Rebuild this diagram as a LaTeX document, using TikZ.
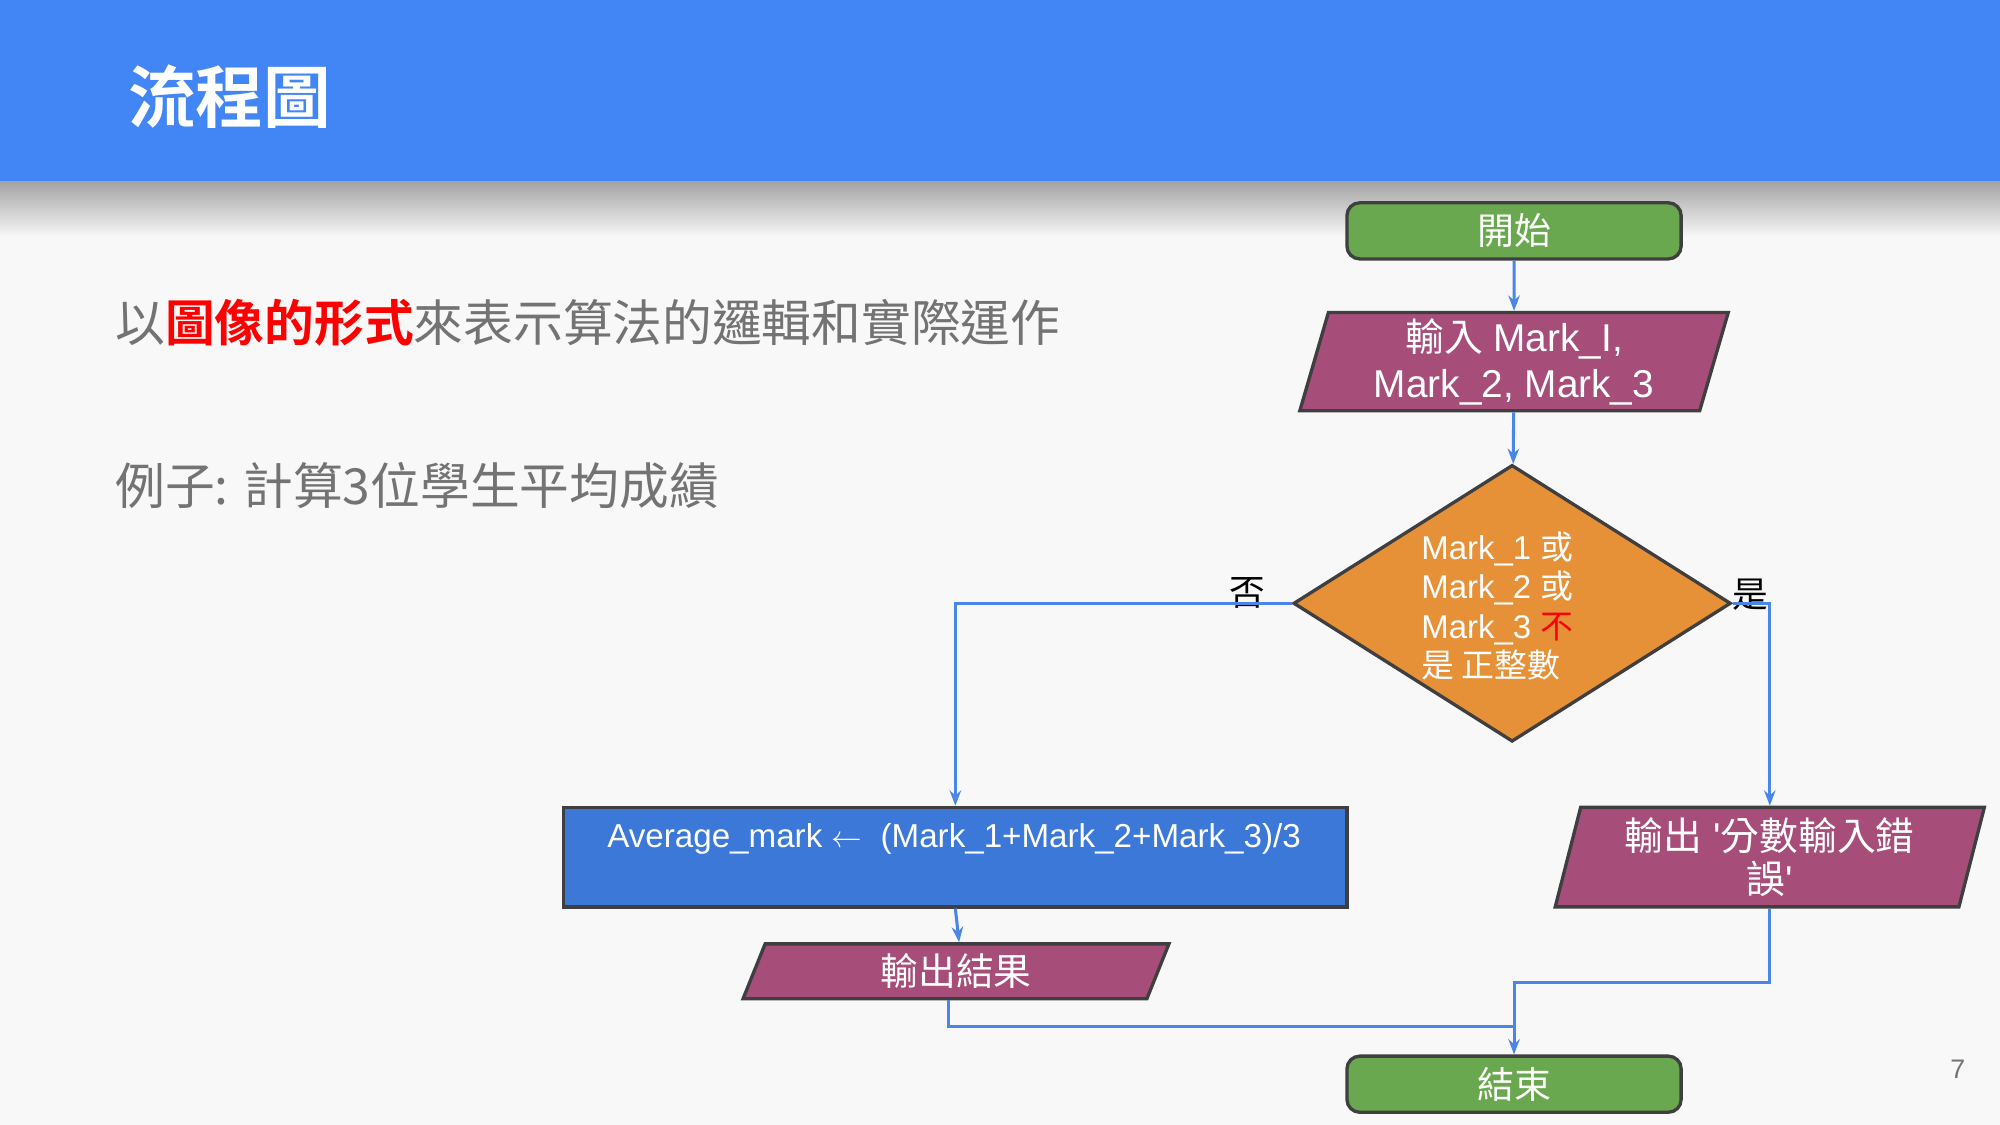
\documentclass[tikz,border=0pt]{standalone}
\usepackage{fontspec}
\setmainfont{Liberation Sans}
\newfontfamily\plain{Liberation Sans}
\newfontfamily\cjk{Noto Sans CJK TC}
\newfontfamily\cjkbold{Noto Sans CJK TC Bold}
\usetikzlibrary{shapes.geometric,arrows.meta}
\definecolor{bg}{HTML}{F8F8F8}
\definecolor{headblue}{HTML}{4285F4}
\definecolor{bodygray}{HTML}{737373}
\definecolor{termgreen}{HTML}{6AA84F}
\definecolor{iopurple}{HTML}{A64D79}
\definecolor{decorange}{HTML}{E69138}
\definecolor{procblue}{HTML}{3C78D8}
\definecolor{edge}{HTML}{3F3F3F}
\definecolor{linkblue}{HTML}{4A86E8}
\newcommand{\fsz}[2]{\fontsize{#1}{#2}\selectfont}
\newcommand{\squote}{{\plain '}}
\tikzset{
  terminal/.style={draw=edge, line width=1.3pt, fill=termgreen, rounded corners=5pt,
    minimum width=131pt, minimum height=22pt, inner sep=0pt, text=white},
  iobox/.style={draw=edge, line width=1.3pt, fill=iopurple, trapezium,
    trapezium left angle=76, trapezium right angle=104, trapezium stretches=true,
    inner sep=0pt, text=white},
  procbox/.style={draw=edge, line width=1.3pt, fill=procblue, inner sep=0pt},
  decbox/.style={draw=edge, line width=1.3pt, fill=decorange, diamond, inner sep=0pt,
    minimum width=171.5pt, minimum height=108.5pt},
  link/.style={draw=linkblue, line width=1.2pt},
  flow/.style={link, -{Stealth[length=6pt,width=4.5pt]}},
}
\begin{document}
\begin{tikzpicture}[x=0.5pt,y=-0.5pt]
  % page and header band
  \fill[bg] (0,0) rectangle (1568,882);
  \useasboundingbox (0,0) rectangle (1568,882);
  \shade[top color=black!36, bottom color=bg] (0,142) rectangle (1568,186);
  \fill[headblue] (0,0) rectangle (1568,142);
  \node[anchor=west, inner sep=0pt, text=white, font=\cjkbold\fsz{26.5pt}{30pt}] (title) at (100,76)
    {流程圖};

  % slide body text
  \node[anchor=west, inner sep=0pt, text=bodygray, font=\cjk\fsz{19.5pt}{23pt}] (intro) at (90,253)
    {以\textcolor{red}{\cjkbold 圖像的形式}來表示算法的邏輯和實際運作};
  \node[anchor=west, inner sep=0pt, text=bodygray, font=\cjk\fsz{19.5pt}{23pt}] (example) at (90,381)
    {例子: 計算3位學生平均成績};

  % flowchart nodes
  \node[terminal, font=\cjk\fsz{14.5pt}{17pt}] (start) at (1187,181) {開始};
  \node[iobox, minimum width=168pt, minimum height=38.5pt, align=center,
        font=\fsz{15.2pt}{18pt}] (input) at (1187,283.5)
    {{\cjk 輸入} Mark\_I,\\ Mark\_2, Mark\_3};
  \node[decbox] (dec) at (1185.5,473) {};
  \node[anchor=west, inner sep=0pt, text=white, align=left,
        font=\fsz{12.9pt}{15.5pt}] (cond) at (1114,475)
    {Mark\_1 {\cjk 或}\\ Mark\_2 {\cjk 或}\\
     Mark\_3 {\cjk\textcolor{red}{不}}\\ {\cjk 是 正整數}};
  \node[inner sep=0pt, font=\cjk\fsz{14pt}{16pt}] (nolbl) at (978,465) {否};
  \node[inner sep=0pt, font=\cjk\fsz{14pt}{16pt}] (yeslbl) at (1372,466) {是};

  \node[procbox, minimum width=307pt, minimum height=39pt] (avg) at (749,672) {};
  \node[inner sep=0pt, text=white, font=\fsz{13pt}{15pt}] (avgtext) at (748,658)
    {Average\_mark \ensuremath{\leftarrow}\ \ (Mark\_1+Mark\_2+Mark\_3)/3};

  \node[iobox, minimum width=167.5pt, minimum height=21.5pt,
        font=\cjk\fsz{14.8pt}{17pt}] (res) at (749.5,761.5) {輸出結果};
  \node[iobox, minimum width=168.5pt, minimum height=39pt, align=center,
        font=\fsz{15.2pt}{16.5pt}] (err) at (1387.5,672)
    {{\cjk 輸出} \squote{\cjk 分數輸入錯}\\ {\cjk 誤}\squote};
  \node[terminal, font=\cjk\fsz{14.5pt}{17pt}] (end) at (1187,850) {結束};

  \node[inner sep=0pt, text=bodygray, font=\fsz{10.5pt}{12pt}] (pageno) at (1535,838) {7};

  % connectors
  \coordinate (join) at (1187,805);
  \draw[flow] (start) -- (input);
  \draw[flow] (input) -- (dec);
  \draw[flow] (dec.west) -| (avg.north);
  \draw[flow] (dec.east) -| (err.north);
  \draw[flow] (avg.south) -- ([xshift=1.2pt]res.north);
  \draw[flow] (err.south) -- ++(0,58) -| (end.north);
  \draw[link] ([xshift=-2.8pt]res.south) |- (join);
\end{tikzpicture}
\end{document}
